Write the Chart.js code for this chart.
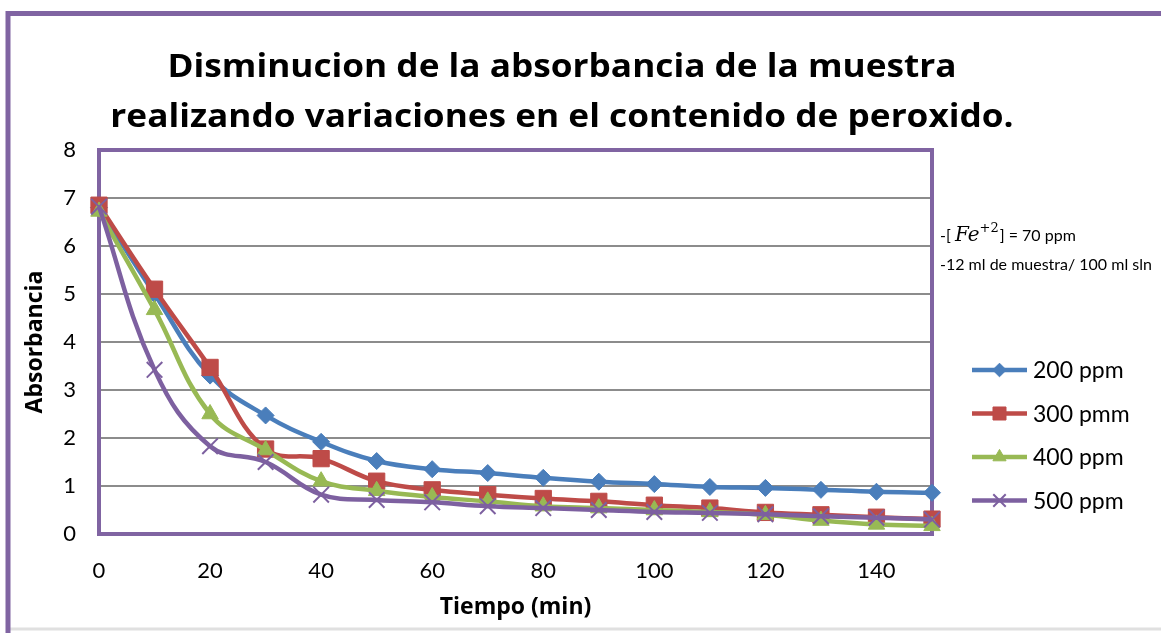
<!DOCTYPE html>
<html>
<head>
<meta charset="utf-8">
<script src="https://cdn.jsdelivr.net/npm/chart.js@4/dist/chart.umd.min.js"></script>
<style>
  html, body { margin: 0; padding: 0; background: #ffffff; }
  #wrap { position: relative; width: 1161px; height: 633px; }
  canvas { display: block; }
</style>
</head>
<body>
<div id="wrap"><canvas id="c" width="1161" height="633"></canvas></div>
<script>
// ---- data ----
const tiempo = [0, 10, 20, 30, 40, 50, 60, 70, 80, 90, 100, 110, 120, 130, 140, 150];
const serie200 = [6.80, 5.00, 3.30, 2.47, 1.92, 1.52, 1.35, 1.27, 1.17, 1.09, 1.04, 0.98, 0.96, 0.92, 0.88, 0.86];
const serie300 = [6.85, 5.10, 3.47, 1.77, 1.57, 1.10, 0.92, 0.82, 0.74, 0.68, 0.60, 0.54, 0.45, 0.40, 0.35, 0.31];
const serie400 = [6.72, 4.67, 2.50, 1.75, 1.10, 0.90, 0.77, 0.68, 0.58, 0.54, 0.50, 0.46, 0.40, 0.28, 0.20, 0.17];
const serie500 = [6.82, 3.42, 1.83, 1.50, 0.82, 0.71, 0.66, 0.58, 0.54, 0.50, 0.46, 0.44, 0.41, 0.37, 0.34, 0.30];
const seriesLabels = ['200 ppm', '300 pmm', '400 ppm', '500 ppm'];
const titleLines = ['Disminucion de la absorbancia de la muestra', 'realizando variaciones en el contenido de peroxido.'];
const xTitle = 'Tiempo (min)';
const yTitle = 'Absorbancia';
const xTicks = [0, 20, 40, 60, 80, 100, 120, 140];
const note2 = '-12 ml de muestra/ 100 ml sln';

// ---- styles ----
const colors = ['#4a7ebb', '#be4b48', '#98b954', '#7d60a0'];
const styles = ['rectRot', 'rect', 'triangle', 'crossRot'];
const radii = [8.5, 11.5, 9.5, 11];
const FONT = 'Lato, "Open Sans", sans-serif';
const BFONT = '"Open Sans", Lato, sans-serif';
const PURPLE = '#8064a2';

function mk(i, data) {
  return {
    label: seriesLabels[i],
    data: tiempo.map((t, k) => ({x: t, y: data[k]})),
    borderColor: colors[i],
    backgroundColor: colors[i],
    borderWidth: 4.5,
    pointStyle: styles[i],
    pointRadius: radii[i],
    pointHoverRadius: radii[i],
    pointBackgroundColor: colors[i],
    pointBorderColor: colors[i],
    pointBorderWidth: i === 3 ? 2 : 1,
    tension: 0.4,
    fill: false,
    clip: false,
    order: 4 - i
  };
}

const framePlugin = {
  id: 'frame',
  beforeDraw(chart) {
    const ctx = chart.ctx;
    ctx.save();
    ctx.fillStyle = '#ffffff';
    ctx.fillRect(0, 0, chart.width, chart.height);
    // outer chart border
    ctx.strokeStyle = '#e0e0e0';
    ctx.lineWidth = 3;
    ctx.beginPath(); ctx.moveTo(8, 629); ctx.lineTo(1161, 629); ctx.stroke();
    ctx.strokeStyle = PURPLE;
    ctx.lineWidth = 5;
    ctx.beginPath();
    ctx.moveTo(8, 633); ctx.lineTo(8, 13.5); ctx.lineTo(1161, 13.5);
    ctx.stroke();
    // title
    ctx.fillStyle = '#000';
    ctx.font = 'bold 33px ' + BFONT;
    ctx.textAlign = 'center';
    ctx.textBaseline = 'alphabetic';
    const sx = 789 / ctx.measureText(titleLines[0]).width;
    ctx.translate(562, 0);
    ctx.scale(sx, 1);
    ctx.fillText(titleLines[0], 0, 77);
    ctx.fillText(titleLines[1], 0, 127);
    ctx.restore();
  },
  beforeDatasetsDraw(chart) {
    const {ctx, chartArea: a} = chart;
    ctx.save();
    ctx.strokeStyle = PURPLE;
    ctx.lineWidth = 4;
    ctx.strokeRect(a.left, a.top, a.right - a.left, a.bottom - a.top);
    ctx.restore();
  },
  afterDraw(chart) {
    const ctx = chart.ctx;
    ctx.save();
    // legend: line + marker samples
    const lx0 = 972, lx1 = 1027, ly0 = 370, dy = 43.5;
    chart.data.datasets.forEach((ds, i) => {
      const y = ly0 + i * dy;
      ctx.strokeStyle = ds.borderColor;
      ctx.lineWidth = 4.5;
      ctx.beginPath(); ctx.moveTo(lx0, y); ctx.lineTo(lx1, y); ctx.stroke();
      ctx.fillStyle = ds.backgroundColor;
      ctx.strokeStyle = ds.borderColor;
      ctx.lineWidth = ds.pointBorderWidth;
      Chart.helpers.drawPoint(ctx, {pointStyle: ds.pointStyle, radius: ds.pointRadius * 0.8, rotation: 0, borderWidth: ds.pointBorderWidth}, (lx0 + lx1) / 2, y);
      ctx.fillStyle = '#000';
      ctx.font = '23px ' + FONT;
      ctx.textBaseline = 'middle';
      ctx.textAlign = 'left';
      ctx.fillText(ds.label, 1033, y + 1);
    });
    // annotation text
    ctx.fillStyle = '#000';
    ctx.textBaseline = 'alphabetic';
    let x = 940;
    const by = 241;
    ctx.font = '16px ' + FONT;
    ctx.fillText('-[ ', x, by); x += ctx.measureText('-[ ').width;
    ctx.font = 'italic 20px "DejaVu Serif", "Liberation Serif", serif';
    ctx.fillText('Fe', x, by); x += ctx.measureText('Fe').width;
    ctx.font = '13px "DejaVu Serif", "Liberation Serif", serif';
    ctx.fillText('+2', x, by - 9); x += ctx.measureText('+2').width;
    ctx.font = '16px ' + FONT;
    ctx.fillText('] = 70 ppm', x + 1, by);
    ctx.fillText(note2, 940, 270);
    ctx.restore();
  }
};

new Chart(document.getElementById('c'), {
  type: 'line',
  data: {
    datasets: [mk(0, serie200), mk(1, serie300), mk(2, serie400), mk(3, serie500)]
  },
  options: {
    responsive: false,
    animation: false,
    events: [],
    layout: { padding: { left: 20, right: 229, top: 150, bottom: 10 } },
    plugins: {
      legend: { display: false },
      tooltip: { enabled: false },
      title: { display: false }
    },
    scales: {
      x: {
        type: 'linear',
        min: 0, max: 150,
        afterBuildTicks(scale) { scale.ticks = xTicks.map(v => ({value: v})); },
        afterFit(scale) { scale.height = 89; },
        grid: { display: false, drawTicks: false },
        border: { display: false },
        ticks: { color: '#000', font: { family: FONT, size: 22 }, padding: 24, maxRotation: 0 },
        title: { display: true, text: xTitle, color: '#000', font: { family: BFONT, size: 23, weight: 'bold' }, padding: { top: 0, bottom: 2 } }
      },
      y: {
        min: 0, max: 8,
        ticks: { stepSize: 1, color: '#000', font: { family: FONT, size: 22 }, padding: 23 },
        afterFit(scale) { scale.width = 79; },
        grid: { color: '#8c8c8c', lineWidth: 2, drawTicks: false },
        border: { display: false },
        title: { display: true, text: yTitle, color: '#000', font: { family: BFONT, size: 23, weight: 'bold' }, padding: { top: 2, bottom: 0 } }
      }
    }
  },
  plugins: [framePlugin]
});
</script>
</body>
</html>
